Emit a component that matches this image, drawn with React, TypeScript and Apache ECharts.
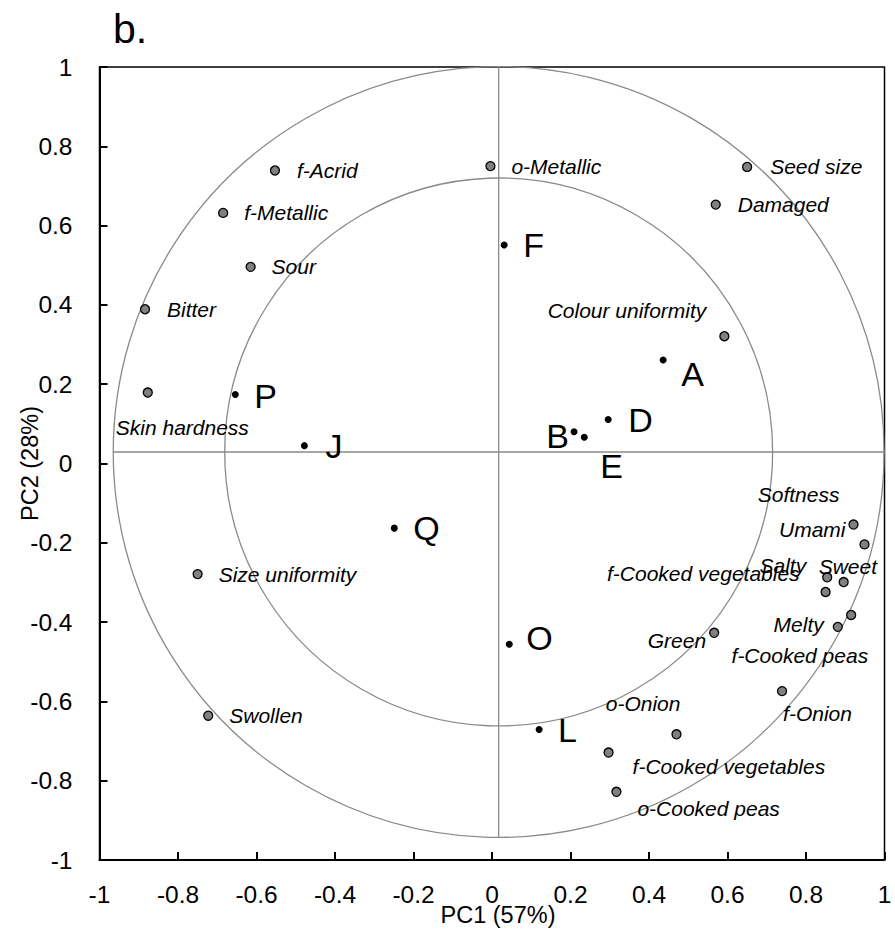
import React, { useEffect, useRef } from "react";
import * as echarts from "echarts";

const FONT = '"Liberation Sans", Arial, sans-serif';

// Variables (loadings)
const varNames = [
  "f-Acrid", "f-Metallic", "Sour", "Bitter", "o-Metallic", "Seed size", "Damaged",
  "Colour uniformity", "Skin hardness", "Size uniformity", "Swollen", "Softness", "Umami",
  "Salty", "Sweet", "f-Cooked vegetables", "Melty", "f-Cooked peas", "Green", "f-Onion",
  "o-Onion", "f-Cooked vegetables", "o-Cooked peas",
];
const varPC1 = [
  -0.553, -0.685, -0.615, -0.884, -0.004, 0.65, 0.57, 0.592, -0.877, -0.75, -0.723, 0.949, 0.921,
  0.854, 0.896, 0.85, 0.881, 0.915, 0.566, 0.739, 0.47, 0.297, 0.317,
];
const varPC2 = [
  0.739, 0.632, 0.496, 0.389, 0.75, 0.748, 0.653, 0.321, 0.179, -0.279, -0.636, -0.204, -0.154,
  -0.287, -0.299, -0.324, -0.412, -0.382, -0.427, -0.574, -0.683, -0.729, -0.828,
];
// label placement: [dx, dy, align] in pixels relative to the point
const varLabelLayout: [number, number, string][] = [
  [22, 0, "left"], [21, 0, "left"], [21, 0, "left"], [22, 0, "left"], [21, 0, "left"],
  [23, 0, "left"], [22, 0, "left"], [-18, -26, "right"], [-32, 35, "left"], [21, 0, "left"],
  [21, 0, "left"], [-25, -50, "right"], [-8, 5, "right"], [-21, -12, "right"], [-25, -16, "left"],
  [-26, -18, "right"], [-14, -2, "right"], [17, 41, "right"], [-8, 8, "right"], [1, 22, "left"],
  [4, -31, "right"], [24, 14, "left"], [21, 17, "left"],
];

// Samples (scores)
const sampleNames = ["F", "A", "D", "B", "E", "J", "P", "Q", "O", "L"];
const samplePC1 = [0.031, 0.436, 0.296, 0.209, 0.235, -0.478, -0.654, -0.249, 0.044, 0.12];
const samplePC2 = [0.551, 0.261, 0.111, 0.08, 0.066, 0.045, 0.174, -0.163, -0.456, -0.671];
const sampleLabelLayout: [number, number, string][] = [
  [19, 0, "left"], [18, 14, "left"], [20, 1, "left"], [-5, 4, "right"], [16, 29, "left"],
  [21, 0, "left"], [19, 1, "left"], [19, 0, "left"], [17, -6, "left"], [19, 0, "left"],
];

// Correlation circles and axes cross
const circleCenter = [0.017, 0.029];
const outerRadius = 0.982;
const innerRadius = 0.698;

const axisTicks = [-1, -0.8, -0.6, -0.4, -0.2, 0, 0.2, 0.4, 0.6, 0.8, 1];

export default function App() {
  const ref = useRef<HTMLDivElement>(null);
  useEffect(() => {
    document.body.style.margin = "0";
    const chart = echarts.init(ref.current!, null, { renderer: "svg" });

    const varData = varNames.map((n, i) => ({
      name: n,
      value: [varPC1[i], varPC2[i]],
      label: {
        offset: [varLabelLayout[i][0], varLabelLayout[i][1]],
        align: varLabelLayout[i][2],
      },
    }));
    const sampleData = sampleNames.map((n, i) => ({
      name: n,
      value: [samplePC1[i], samplePC2[i]],
      label: {
        offset: [sampleLabelLayout[i][0], sampleLabelLayout[i][1]],
        align: sampleLabelLayout[i][2],
      },
    }));

    const axisCommon = {
      type: "value",
      min: -1,
      max: 1,
      interval: 0.2,
      nameLocation: "middle",
      nameMoveOverlap: false,
      nameTextStyle: { fontSize: 23.5, lineHeight: 22, color: "#000", fontFamily: FONT },
      axisLine: { onZero: false, lineStyle: { color: "#000", width: 2 } },
      axisTick: { inside: true, length: 8, lineStyle: { color: "#000", width: 2 } },
      axisLabel: {
        fontSize: 24.5,
        lineHeight: 20,
        color: "#000",
        fontFamily: FONT,
        formatter: (v: number) => {
          const t = axisTicks.find((a) => Math.abs(a - v) < 1e-6);
          return String(t !== undefined ? t : Math.round(v * 10) / 10);
        },
      },
      splitLine: { show: false },
    };

    const lineStyle = { stroke: "#8a8a8a", lineWidth: 1.3, fill: "none" };

    chart.setOption({
      animation: false,
      title: {
        text: "b.",
        left: 108,
        top: 3,
        textStyle: { fontSize: 41, fontWeight: "normal", color: "#000", fontFamily: FONT },
      },
      grid: {
        left: 99.5,
        right: 10.5,
        top: 67,
        bottom: 71,
        show: true,
        containLabel: false,
        outerBoundsMode: "none",
        borderColor: "#000",
        borderWidth: 1.5,
        backgroundColor: "transparent",
      },
      xAxis: {
        ...axisCommon,
        name: "PC1 (57%)",
        nameGap: 44,
        nameTextStyle: { ...axisCommon.nameTextStyle, padding: [0, 0, 0, 12] },
        axisLabel: { ...axisCommon.axisLabel, margin: 24 },
      },
      yAxis: {
        ...axisCommon,
        name: "PC2 (28%)",
        nameGap: 59,
        nameTextStyle: { ...axisCommon.nameTextStyle, padding: [0, 0, 0, 0] },
        axisLabel: { ...axisCommon.axisLabel, margin: 27 },
      },
      series: [
        {
          type: "custom",
          coordinateSystem: "cartesian2d",
          silent: true,
          clip: false,
          z: 1,
          data: [circleCenter],
          renderItem: (params: any, api: any) => {
            const c = api.coord([api.value(0), api.value(1)]);
            const rO = api.size([outerRadius, 0])[0];
            const rI = api.size([innerRadius, 0])[0];
            const top = api.coord([api.value(0), 1])[1];
            const right = api.coord([1, api.value(1)])[0];
            return {
              type: "group",
              children: [
                { type: "circle", shape: { cx: c[0], cy: c[1], r: rO }, style: lineStyle },
                { type: "circle", shape: { cx: c[0], cy: c[1], r: rI }, style: lineStyle },
                { type: "line", shape: { x1: c[0], y1: top, x2: c[0], y2: c[1] + rO }, style: lineStyle },
                { type: "line", shape: { x1: c[0] - rO, y1: c[1], x2: right, y2: c[1] }, style: lineStyle },
              ],
            };
          },
        },
        {
          type: "scatter",
          name: "Variables",
          z: 3,
          symbol: "circle",
          symbolSize: 9,
          itemStyle: { color: "#808080", borderColor: "#000", borderWidth: 1.3, opacity: 1 },
          label: {
            show: true,
            position: "inside",
            formatter: "{b}",
            color: "#000",
            fontSize: 21,
            fontStyle: "italic",
            fontFamily: FONT,
            verticalAlign: "middle",
          },
          data: varData,
        },
        {
          type: "scatter",
          name: "Samples",
          z: 4,
          symbol: "circle",
          symbolSize: 7,
          itemStyle: { color: "#000", opacity: 1 },
          label: {
            show: true,
            position: "inside",
            formatter: "{b}",
            color: "#000",
            fontSize: 34,
            fontFamily: FONT,
            verticalAlign: "middle",
          },
          data: sampleData,
        },
      ],
    });

    return () => chart.dispose();
  }, []);

  return <div ref={ref} style={{ width: 895, height: 931 }} />;
}
